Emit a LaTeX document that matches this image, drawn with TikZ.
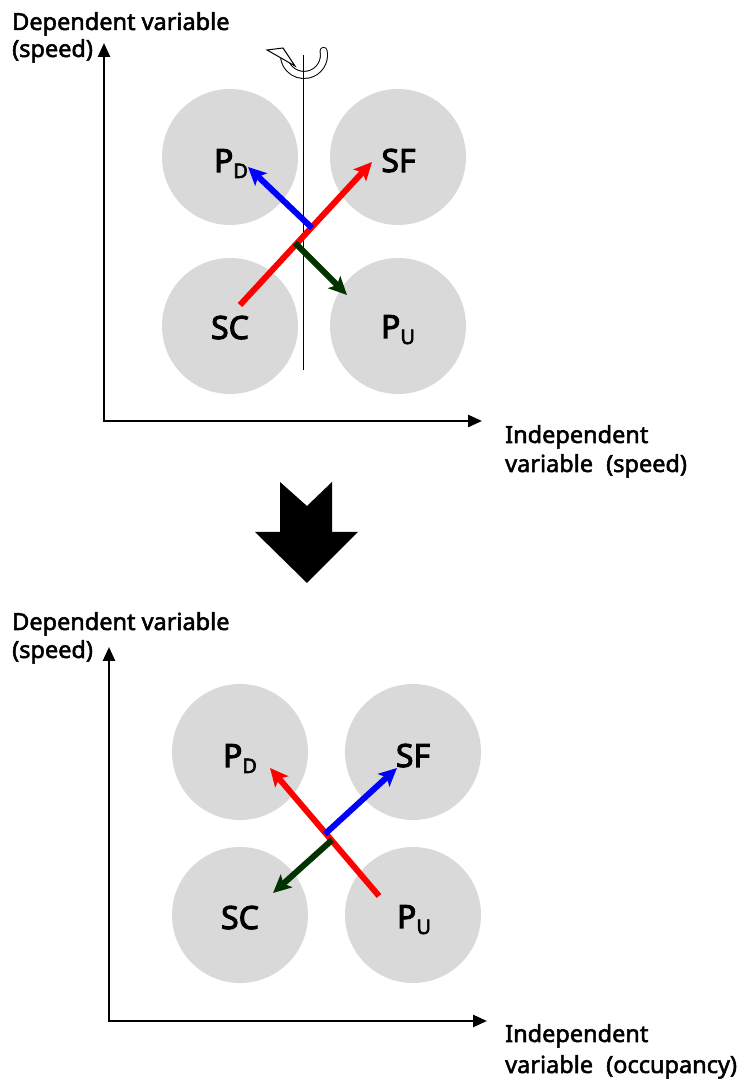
\documentclass[tikz,border=0pt]{standalone}
\usepackage{fontspec}
\setmainfont{Noto Sans}
\newfontfamily\bsans{Noto Sans}[FakeBold=2.2]
\newfontfamily\bbsans{Noto Sans}[FakeBold=3.2]
\usetikzlibrary{arrows.meta}
\definecolor{cgray}{HTML}{D9D9D9}
\definecolor{dgreen}{HTML}{003300}
\begin{document}
\begin{tikzpicture}[x=1pt,y=1pt,
  bub/.style={circle, fill=cgray, minimum size=136pt, inner sep=0pt},
  lab/.style={font=\bbsans\fontsize{32}{36}\selectfont, anchor=base, inner sep=0pt},
  axis/.style={line width=2.5pt, line join=miter, {Triangle[length=14pt,width=12pt]}-{Triangle[length=14pt,width=12pt]}},
  vec/.style={line width=6pt, -{Stealth[length=18pt,width=17pt,inset=4pt]}},
  axlab/.style={font=\bsans\fontsize{23.5}{28}\selectfont, anchor=base west, inner sep=0pt}]
\newcommand{\sbs}[1]{\raisebox{-6pt}{\fontsize{20}{20}\selectfont #1}}
\useasboundingbox (0,0) rectangle (747,1081);

% ---------- top panel ----------
\node[bub] (tPD) at (230,924) {};
\node[bub] (tSF) at (398,924) {};
\node[bub] (tSC) at (230,755) {};
\node[bub] (tPU) at (398,755) {};
\node[lab] (tPDl) at (231,909) {P\sbs{D}};
\node[lab] (tSFl) at (398.5,909) {SF};
\node[lab] (tSCl) at (230,742) {SC};
\node[lab] (tPUl) at (398,743) {P\sbs{U}};

\coordinate (t-top) at (303,1026);
\coordinate (t-bot) at (303,711);

% rotation symbol (hollow curved arrow)
\coordinate (rotc) at (304,1026);
\draw[line width=8pt, line cap=round] ([shift={(12:20)}]rotc) arc[start angle=12, end angle=-172, radius=20];
\draw[line width=6pt, white, line cap=round] ([shift={(12:20)}]rotc) arc[start angle=12, end angle=-172, radius=20];
\coordinate (rh1) at (267,1031);
\coordinate (rh2) at (283,1033);
\coordinate (rh3) at (295,1015);
\draw[line width=1pt, fill=white, line join=miter] (rh1) -- (rh2) -- (rh3) -- cycle;

\draw[line width=0.9pt] (t-top) -- (t-bot);

\coordinate (tr1) at (240,776); \coordinate (tr2) at (372,919);
\coordinate (tb1) at (312,853); \coordinate (tb2) at (248,914);
\coordinate (tg1) at (295,838); \coordinate (tg2) at (347,786);
\draw[vec, red] (tr1) -- (tr2);
\draw[vec, blue] (tb1) -- (tb2);
\draw[vec, dgreen] (tg1) -- (tg2);

\coordinate (o1) at (104,660);
\coordinate (ytip1) at (104,1038);
\coordinate (xtip1) at (482,660);
\draw[axis] (ytip1) -- (o1) -- (xtip1);

\node[axlab] (tdep1) at (12,1051) {Dependent variable};
\node[axlab] (tdep2) at (12,1024) {(speed)};
\node[axlab] (tind1) at (505,638) {Independent};
\node[axlab] (tind2) at (505,609) {variable\hspace{0.3em} (speed)};

% ---------- big arrow ----------
\fill (280,599) -- (307,575) -- (332,599) -- (332,549) -- (358,549) -- (307,498) -- (255,549) -- (280,549) -- cycle;

% ---------- bottom panel ----------
\node[bub] (bPD) at (240,329) {};
\node[bub] (bSF) at (413,329) {};
\node[bub] (bSC) at (240,166) {};
\node[bub] (bPU) at (413,166) {};
\node[lab] (bPDl) at (240,314) {P\sbs{D}};
\node[lab] (bSFl) at (413,314) {SF};
\node[lab] (bSCl) at (240,152) {SC};
\node[lab] (bPUl) at (414,153) {P\sbs{U}};

\coordinate (br1) at (379,185); \coordinate (br2) at (270,313);
\coordinate (bb1) at (325,247); \coordinate (bb2) at (397,313);
\coordinate (bg1) at (332,241); \coordinate (bg2) at (273,188);
\draw[vec, red] (br1) -- (br2);
\draw[vec, blue] (bb1) -- (bb2);
\draw[vec, dgreen] (bg1) -- (bg2);

\coordinate (o2) at (109,60);
\coordinate (ytip2) at (109,434);
\coordinate (xtip2) at (487,60);
\draw[axis] (ytip2) -- (o2) -- (xtip2);

\node[axlab] (bdep1) at (12,451) {Dependent variable};
\node[axlab] (bdep2) at (12,423) {(speed)};
\node[axlab] (bind1) at (505,39) {Independent};
\node[axlab] (bind2) at (505,8) {variable\hspace{0.3em} (occupancy)};
\end{tikzpicture}
\end{document}
